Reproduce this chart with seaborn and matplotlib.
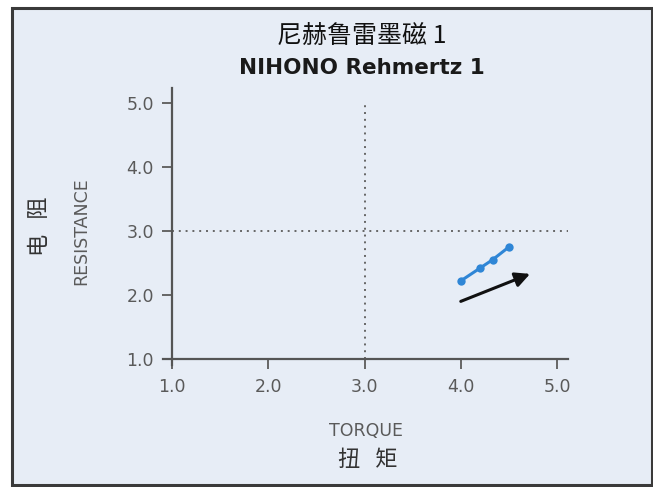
import matplotlib
matplotlib.use("Agg")
import matplotlib.pyplot as plt
import seaborn as sns
from matplotlib.patches import Rectangle

# data
torque = [4.0, 4.2, 4.33, 4.5]
resistance = [2.22, 2.42, 2.55, 2.75]
arrow_start = (4.0, 1.9)
arrow_end = (4.72, 2.33)
ticks = [1.0, 2.0, 3.0, 4.0, 5.0]
tick_labels = ["1.0", "2.0", "3.0", "4.0", "5.0"]
ref_x = 3.0
ref_y = 3.0

sns.set_theme(style="white")
plt.rcParams['font.family'] = ['DejaVu Sans', 'Noto Sans CJK SC']
cjk = ['Noto Sans CJK SC', 'DejaVu Sans']

fig = plt.figure(figsize=(6.53, 4.87), dpi=100)
fig.patch.set_facecolor("white")
fig.patches.append(Rectangle((12 / 653, 2 / 487), 640 / 653, 477 / 487,
                             transform=fig.transFigure, facecolor="#e7edf6",
                             edgecolor="#3a3a3a", linewidth=2.2, zorder=-10))

ax = fig.add_axes([163 / 653, 122 / 487, 405 / 653, 277 / 487])
ax.set_zorder(5)
ax.set_facecolor("none")
ax.patch.set_alpha(0)
ax.set_xlim(0.9065, 5.114)
ax.set_ylim(0.906, 5.234)

for s in ["top", "right"]:
    ax.spines[s].set_visible(False)
for s in ["left", "bottom"]:
    ax.spines[s].set_position(("data", 1.0))
    ax.spines[s].set_color("#555555")
    ax.spines[s].set_linewidth(1.6)

ax.set_xticks(ticks)
ax.set_xticklabels(tick_labels)
ax.set_yticks(ticks)
ax.set_yticklabels(tick_labels)
ax.tick_params(axis="both", direction="out", length=7, width=1.4, color="#666666",
               labelsize=12.5, labelcolor="#5a5a5a", left=True, bottom=True)
ax.tick_params(axis="y", pad=6)
ax.tick_params(axis="x", pad=7)

ax.hlines(ref_y, 1.0, 5.114, colors="#666666", linestyles=(0, (1, 2.5)), linewidth=1.4)
ax.vlines(ref_x, 1.0, 5.0, colors="#666666", linestyles=(0, (1, 2.5)), linewidth=1.4)

sns.lineplot(x=torque, y=resistance, ax=ax, color="#2f86d6", marker="o",
             markersize=6, markeredgewidth=0, linewidth=2.2)

ax.annotate("", xy=arrow_end, xytext=arrow_start,
            arrowprops=dict(arrowstyle="-|>", color="#111111", lw=2.2, mutation_scale=22,
                            shrinkA=0, shrinkB=0))

ax.set_xlabel("")
ax.set_ylabel("")

fig.text(0.554, 1 - 36 / 487, "尼赫鲁雷墨磁 1", ha="center", va="center", fontsize=18,
         color="#111111", family=cjk)
fig.text(0.554, 1 - 68 / 487, "NIHONO Rehmertz 1", ha="center", va="center", fontsize=15.5,
         fontweight="bold", color="#1a1a1a")
fig.text(81 / 653, 1 - 231 / 487, "RESISTANCE", ha="center", va="center", rotation=90,
         fontsize=12.5, color="#5a5a5a")
fig.text(40 / 653, 1 - 226 / 487, "电   阻", ha="center", va="center", rotation=90,
         fontsize=16, color="#333333", family=cjk, fontweight="light")
fig.text(366 / 653, 1 - 431 / 487, "TORQUE", ha="center", va="center", fontsize=12.5,
         color="#5a5a5a")
fig.text(368 / 653, 1 - 460 / 487, "扭   矩", ha="center", va="center", fontsize=16,
         color="#333333", family=cjk, fontweight="light")

fig.savefig("out.png", dpi=100)
